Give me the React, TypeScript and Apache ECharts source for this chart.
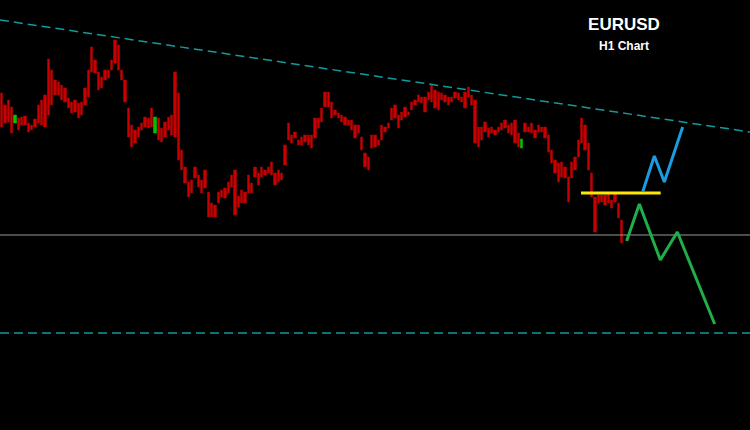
import React, { useEffect, useRef } from "react";
import * as echarts from "echarts";

// Price values in points (price = points / 10000)
const highs = [
  12007, 11995, 12000, 11993, 11985, 11982, 11983, 11984, 11977, 11975, 11981, 11995, 12000, 12005, 12041, 12030, 12020, 12018, 12015, 12012,
  12002, 11998, 12000, 11997, 11998, 12012, 12030, 12053, 12040, 12028, 12023, 12030, 12030, 12040, 12060, 12055, 12030, 12020, 11992, 11975,
  11970, 11973, 11977, 11983, 11982, 11992, 11983, 11982, 11972, 11978, 11983, 11985, 12028, 12007, 11950, 11933, 11918, 11920, 11933, 11925,
  11920, 11930, 11908, 11897, 11895, 11908, 11910, 11912, 11918, 11925, 11930, 11904, 11910, 11908, 11925, 11917, 11933, 11927, 11933, 11930,
  11933, 11938, 11927, 11930, 11927, 11955, 11977, 11965, 11968, 11960, 11963, 11965, 11965, 11965, 11982, 11982, 11992, 12008, 12008, 11998,
  11990, 11987, 11985, 11983, 11980, 11980, 11975, 11975, 11963, 11947, 11943, 11965, 11965, 11960, 11975, 11973, 11977, 11992, 11995, 11985,
  11988, 11993, 11988, 11998, 12000, 12005, 12003, 12003, 12008, 12015, 12010, 12008, 12007, 12005, 12003, 12003, 12008, 12007, 12003, 12008,
  12013, 12005, 12000, 11973, 11973, 11978, 11972, 11973, 11970, 11973, 11977, 11980, 11975, 11977, 11980, 11967, 11961, 11977, 11973, 11977,
  11970, 11975, 11973, 11973, 11965, 11950, 11940, 11937, 11938, 11933, 11923, 11938, 11943, 11960, 11982, 11975, 11957, 11927, 11903, 11905,
  11905, 11905, 11907, 11900, 11907, 11897, 11880,
];
const lows = [
  11973, 11977, 11978, 11967, 11977, 11970, 11975, 11975, 11968, 11970, 11973, 11977, 11975, 11973, 11985, 11995, 12005, 12005, 12000, 11998,
  11992, 11987, 11988, 11982, 11985, 11995, 12003, 12028, 12027, 12010, 12012, 12020, 12022, 12030, 12037, 12030, 12020, 11998, 11963, 11953,
  11957, 11963, 11970, 11973, 11972, 11973, 11967, 11960, 11958, 11963, 11970, 11965, 11963, 11940, 11930, 11917, 11903, 11907, 11922, 11913,
  11907, 11912, 11883, 11883, 11883, 11897, 11903, 11902, 11907, 11913, 11885, 11893, 11897, 11897, 11907, 11907, 11923, 11915, 11923, 11925,
  11927, 11925, 11915, 11918, 11920, 11935, 11960, 11957, 11962, 11955, 11955, 11958, 11955, 11952, 11962, 11972, 11978, 11993, 11993, 11982,
  11985, 11982, 11978, 11975, 11975, 11970, 11962, 11967, 11950, 11933, 11930, 11952, 11953, 11955, 11960, 11968, 11972, 11980, 11982, 11972,
  11980, 11983, 11985, 11990, 11995, 11998, 11997, 11988, 12000, 11998, 11992, 11990, 12000, 11998, 11995, 11998, 12002, 12000, 11998, 11992,
  12003, 11995, 11957, 11953, 11960, 11968, 11963, 11967, 11965, 11968, 11970, 11972, 11967, 11965, 11957, 11953, 11952, 11968, 11968, 11967,
  11962, 11968, 11968, 11962, 11948, 11937, 11927, 11918, 11923, 11922, 11898, 11922, 11930, 11943, 11957, 11950, 11930, 11903, 11868, 11897,
  11898, 11895, 11897, 11892, 11898, 11882, 11857,
];
const bullishBars = [4, 46, 156];

const totalSlots = 225; // hourly slots incl. projection area

// Levels and projections (x in bar-slot units, y in points)
const trendX = [-0.5, 224.5];
const trendY = [12080, 11968];
const supportLevel = 11865;
const lowerLevel = 11767;
const breakoutX = [173.8, 197.7];
const breakoutY = 11907;
const bullPathX = [192.3, 195.8, 198.8, 204.3];
const bullPathY = [11908, 11944, 11918, 11973];
const bearPathX = [187.5, 191.3, 197.6, 202.7, 213.9];
const bearPathY = [11859, 11896, 11840, 11868, 11776];

const categories = Array.from({ length: totalSlots }, (_, i) => String(i));

export default function App() {
  const ref = useRef<HTMLDivElement>(null);
  useEffect(() => {
    if (!ref.current) return;
    const chart = echarts.init(ref.current, undefined, { renderer: "svg" });
    const candles = highs.map((h, i) => {
      const l = lows[i];
      return bullishBars.includes(i) ? [l, h, l, h] : [h, l, l, h];
    });
    const pts = (xs: number[], ys: number[]) => xs.map((x, i) => [x, ys[i]]);
    const lineS = (name: string, data: number[][], color: string, width: number, type: any = "solid") => ({
      name,
      type: "line",
      xAxisIndex: 1,
      yAxisIndex: 0,
      data,
      symbol: "none",
      silent: true,
      lineStyle: { color, width, type },
    });
    chart.setOption({
      animation: false,
      backgroundColor: "#000000",
      grid: { left: 0, right: 0, top: 0, bottom: 0 },
      xAxis: [
        { type: "category", data: categories, show: false, boundaryGap: true },
        { type: "value", min: -0.5, max: totalSlots - 0.5, show: false },
      ],
      yAxis: { type: "value", min: 11670, max: 12100, show: false, scale: true },
      graphic: [
        {
          type: "text",
          x: 624,
          y: 24,
          style: {
            text: "EURUSD",
            fill: "#ffffff",
            font: "bold 17px 'Liberation Sans', Arial, sans-serif",
            textAlign: "center",
            textVerticalAlign: "middle",
          },
        },
        {
          type: "text",
          x: 624,
          y: 46,
          style: {
            text: "H1 Chart",
            fill: "#ffffff",
            font: "bold 12px 'Liberation Sans', Arial, sans-serif",
            textAlign: "center",
            textVerticalAlign: "middle",
          },
        },
      ],
      series: [
        lineS("support", [[-0.5, supportLevel], [totalSlots - 0.5, supportLevel]], "#9a9a9a", 1),
        lineS("lower", [[-0.5, lowerLevel], [totalSlots - 0.5, lowerLevel]], "#129a9c", 1.5, [9, 5]),
        lineS("trend", pts(trendX, trendY), "#129a9c", 1.5, [9, 5]),
        {
          name: "EURUSD",
          type: "candlestick",
          xAxisIndex: 0,
          yAxisIndex: 0,
          data: candles,
          barWidth: 3,
          silent: true,
          itemStyle: {
            color: "#00c000",
            color0: "#c80000",
            borderColor: "#00c000",
            borderColor0: "#a80000",
            borderWidth: 0.6,
          },
        },
        lineS("breakout", [[breakoutX[0], breakoutY], [breakoutX[1], breakoutY]], "#ffe800", 3),
        lineS("bull", pts(bullPathX, bullPathY), "#1a9de0", 3),
        lineS("bear", pts(bearPathX, bearPathY), "#1fae48", 3),
      ],
    });
    return () => chart.dispose();
  }, []);
  return (
    <div
      ref={ref}
      style={{ position: "fixed", left: 0, top: 0, width: 750, height: 430, background: "#000" }}
    />
  );
}
